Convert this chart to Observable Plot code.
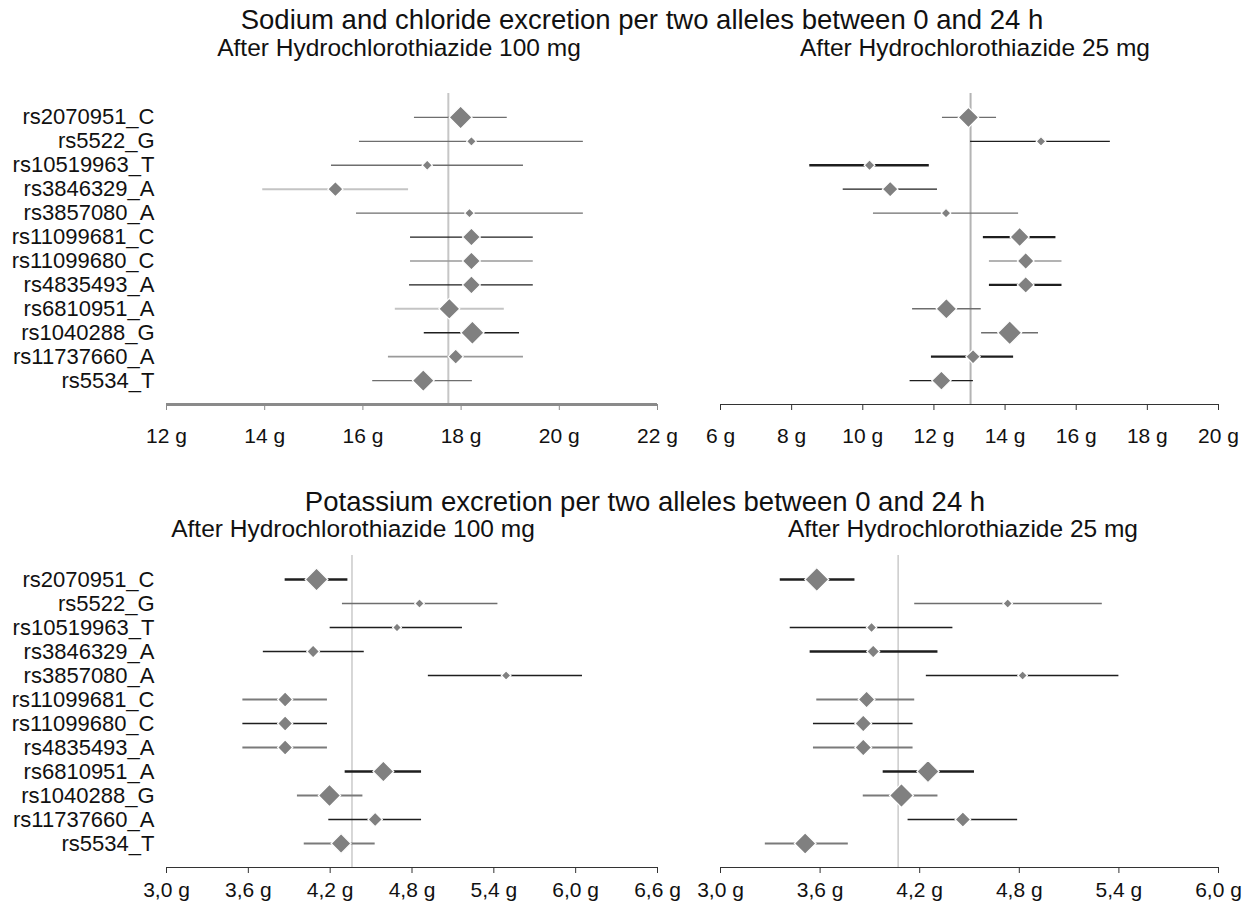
<!DOCTYPE html>
<html><head><meta charset="utf-8">
<script src="https://cdn.jsdelivr.net/npm/d3@7"></script>
<script src="https://cdn.jsdelivr.net/npm/@observablehq/plot@0.6"></script>
<style>
body{margin:0;background:#fff;font-family:"Liberation Sans",Arial,sans-serif;}
#wrap{position:relative;width:1254px;height:909px;overflow:hidden;background:#fff;}
.t{position:absolute;white-space:nowrap;color:#111;line-height:1;transform:translateX(-50%);z-index:2;}
.p{position:absolute;z-index:1;}
</style></head><body><div id="wrap"></div>
<script>
// ---------- data ----------
const snps = ["rs2070951_C","rs5522_G","rs10519963_T","rs3846329_A","rs3857080_A","rs11099681_C",
  "rs11099680_C","rs4835493_A","rs6810951_A","rs1040288_G","rs11737660_A","rs5534_T"];

// Sodium and chloride excretion, HCTZ 100 mg (g)
const na100Est = [17.99,18.21,17.31,15.44,18.17,18.21,18.21,18.21,17.76,18.23,17.89,17.23];
const na100Lo  = [17.05,15.93,15.36,13.96,15.87,16.97,16.97,16.95,16.66,17.25,16.52,16.20];
const na100Hi  = [18.94,20.49,19.27,16.93,20.49,19.47,19.47,19.47,18.88,19.19,19.27,18.23];
const na100Weight = [9.5,4,4.3,6.3,4,7.5,7.5,7.5,8.7,9.7,6.3,9];
const na100Ref = 17.74;
const na100Ticks = [12,14,16,18,20,22];

// Sodium and chloride excretion, HCTZ 25 mg (g)
const na25Est = [12.97,15.01,10.19,10.77,12.34,14.41,14.58,14.58,12.35,14.13,13.10,12.21];
const na25Lo  = [12.24,13.03,8.51,9.45,10.30,13.39,13.56,13.56,11.40,13.34,11.93,11.33];
const na25Hi  = [13.76,16.96,11.87,12.10,14.38,15.43,15.60,15.60,13.33,14.94,14.24,13.11];
const na25Weight = [8.5,4,4.5,6.5,4,8,7,7,8.5,10,6,8];
const na25Ref = 13.03;
const na25Ticks = [6,8,10,12,14,16,18,20];

// Potassium excretion, HCTZ 100 mg (g)
const k100Est = [4.10,4.855,4.69,4.075,5.49,3.87,3.87,3.87,4.59,4.195,4.53,4.28];
const k100Lo  = [3.87,4.29,4.20,3.71,4.92,3.56,3.56,3.56,4.31,3.96,4.19,4.01];
const k100Hi  = [4.33,5.43,5.17,4.45,6.05,4.18,4.18,4.18,4.87,4.44,4.87,4.53];
const k100Weight = [9.5,4,3.7,5.3,4,6.3,6.3,6.3,8.7,9.3,6,8.3];
const k100Ref = 4.36;
const k100Ticks = [3.0,3.6,4.2,4.8,5.4,6.0,6.6];

// Potassium excretion, HCTZ 25 mg (g)
const k25Est = [3.58,4.73,3.91,3.92,4.82,3.88,3.86,3.86,4.25,4.09,4.46,3.51];
const k25Lo  = [3.36,4.17,3.42,3.54,4.24,3.58,3.56,3.56,3.98,3.86,4.13,3.27];
const k25Hi  = [3.81,5.30,4.40,4.31,5.40,4.17,4.16,4.16,4.53,4.31,4.79,3.77];
const k25Weight = [10,4,4.3,5.4,4,7,7,7,9.3,10,6.5,9];
const k25Ref = 4.07;
const k25Ticks = [3.0,3.6,4.2,4.8,5.4,6.0];

// ---------- styles (separate from data) ----------
const lineStyles = {
  d: {c: "#1e1e1e", w: 1.3},
  D: {c: "#1e1e1e", w: 2.3},
  m: {c: "#6e6e6e", w: 1.4},
  M: {c: "#7a7a7a", w: 2.1},
  g: {c: "#9a9a9a", w: 1.6},
  l: {c: "#c4c4c4", w: 1.9}
};
const na100Style = ["m","m","m","l","m","d","g","d","l","d","g","m"];
const na25Style  = ["m","d","D","d","m","D","g","D","m","m","D","d"];
const k100Style  = ["D","m","d","d","d","M","d","M","D","M","d","M"];
const k25Style   = ["D","m","d","D","d","M","d","M","D","M","d","M"];

const gFmt = d => `${d} g`;
const kFmt = d => d.toFixed(1).replace(".", ",") + " g";

function panel(o) {
  const rows = snps.map((s, i) => ({i, snp: s, est: o.est[i], lo: o.lo[i], hi: o.hi[i], w: o.weight[i], st: lineStyles[o.style[i]]}));
  const marks = [
    Plot.ruleX([o.ref], {y1: -1, y2: 12, stroke: o.refColor, strokeWidth: o.refWidth}),
    Plot.ruleY(rows, {y: "i", x1: "lo", x2: "hi", stroke: d => d.st.c, strokeWidth: d => d.st.w}),
    Plot.dot(rows, {x: "est", y: "i", r: "w", symbol: "diamond2", fill: "#808080", stroke: "#fff", strokeWidth: 1.2}),
    Plot.ruleY([12], {stroke: o.axisColor, strokeWidth: o.axisWidth}),
    Plot.axisX(o.ticks, {tickFormat: o.fmt, tickSize: 6, tickPadding: o.tickPadding, stroke: o.axisColor, fill: "#111", fontSize: 21, label: null})
  ];
  if (o.showY) marks.push(Plot.axisY(d3.range(12), {tickFormat: i => snps[i], tickSize: 0, tickPadding: 12, fill: "#111", fontSize: 22, label: null}));
  return Plot.plot({
    width: o.width, height: o.height,
    marginLeft: o.ml, marginRight: o.mr, marginTop: o.mt, marginBottom: o.mb,
    style: {fontFamily: "'Liberation Sans', Arial, sans-serif", fontSize: "21px", background: "transparent", overflow: "visible", color: "#111"},
    x: {domain: o.domain, label: null},
    y: {domain: [12, -1], label: null, axis: o.showY ? undefined : null},
    r: {type: "linear", domain: [0, 10], range: [0, 10.8]},
    marks
  });
}

const wrap = document.getElementById("wrap");
function place(node, left, top) {
  const d = document.createElement("div");
  d.className = "p"; d.style.left = left + "px"; d.style.top = top + "px";
  d.appendChild(node); wrap.appendChild(d);
}
function text(str, cx, baseline, size) {
  const d = document.createElement("div");
  d.className = "t"; d.textContent = str;
  d.style.fontSize = size + "px";
  d.style.left = cx + "px";
  d.style.top = (baseline - 0.8465 * size) + "px";
  wrap.appendChild(d);
}

const topCommon = {height: 364, mt: 13, mb: 40, tickPadding: 18};
const botCommon = {height: 369, mt: 15, mb: 42, tickPadding: 9};

place(panel({...topCommon, est: na100Est, lo: na100Lo, hi: na100Hi, weight: na100Weight, style: na100Style,
  ref: na100Ref, domain: [12, 22], ticks: na100Ticks, fmt: gFmt, width: 680, ml: 166, mr: 23, showY: true,
  refColor: "#c6c6c6", refWidth: 2, axisColor: "#8a8a8a", axisWidth: 3}), 0, 80);
place(panel({...topCommon, est: na25Est, lo: na25Lo, hi: na25Hi, weight: na25Weight, style: na25Style,
  ref: na25Ref, domain: [6, 20], ticks: na25Ticks, fmt: gFmt, width: 574, ml: 40, mr: 36, showY: false,
  refColor: "#b4b4b4", refWidth: 2, axisColor: "#333", axisWidth: 1.2}), 680, 80);
place(panel({...botCommon, est: k100Est, lo: k100Lo, hi: k100Hi, weight: k100Weight, style: k100Style,
  ref: k100Ref, domain: [3.0, 6.6], ticks: k100Ticks, fmt: kFmt, width: 680, ml: 166, mr: 23, showY: true,
  refColor: "#c2c2c2", refWidth: 1.3, axisColor: "#333", axisWidth: 1.2}), 0, 540);
place(panel({...botCommon, est: k25Est, lo: k25Lo, hi: k25Hi, weight: k25Weight, style: k25Style,
  ref: k25Ref, domain: [3.0, 6.0], ticks: k25Ticks, fmt: kFmt, width: 574, ml: 40, mr: 36, showY: false,
  refColor: "#c2c2c2", refWidth: 1.3, axisColor: "#333", axisWidth: 1.2}), 680, 540);

text("Sodium and chloride excretion per two alleles between 0 and 24 h", 642, 29, 27.5);
text("After Hydrochlorothiazide 100 mg", 399, 57, 24.5);
text("After Hydrochlorothiazide 25 mg", 975, 57, 24.5);
text("Potassium excretion per two alleles between 0 and 24 h", 645, 511, 27.5);
text("After Hydrochlorothiazide 100 mg", 353, 538, 24.5);
text("After Hydrochlorothiazide 25 mg", 963, 538, 24.5);
</script></body></html>
